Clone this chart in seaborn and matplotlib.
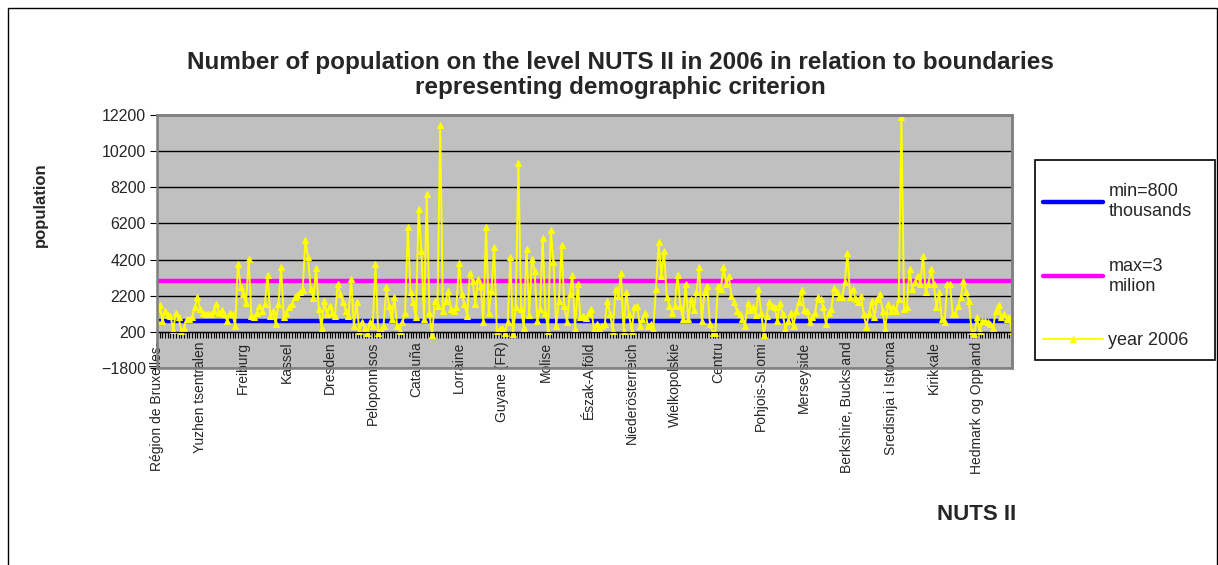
import numpy as np
import pandas as pd
import matplotlib
matplotlib.use("Agg")
import matplotlib.pyplot as plt
import seaborn as sns
from matplotlib.patches import Rectangle

# Population of NUTS II regions in 2006 (thousands)
pop_2006 = [
    810, 1700, 810, 1330, 1140, 1090, 290, 1270, 1000, 260,
    400, 900, 900, 1000, 1560, 2110, 1460, 1220, 1180, 1180,
    1180, 1370, 1740, 1220, 1400, 1180, 810, 1270, 1180, 530,
    3960, 2700, 2290, 1770, 4240, 1090, 1000, 1270, 1640, 1370,
    1740, 3370, 1090, 1370, 630, 1740, 3770, 1000, 1270, 1550,
    1740, 2110, 2240, 2390, 2520, 5260, 4330, 2570, 2070, 3740,
    1460, 440, 1920, 1180, 1640, 1270, 1090, 2850, 2290, 1830,
    1370, 1090, 3130, 530, 1830, 260, 770, 440, 160, 720,
    530, 3960, 160, 350, 530, 2660, 1640, 900, 2110, 530,
    260, 720, 1270, 6000, 2390, 1830, 1000, 7020, 4700, 900,
    7850, 1270, 30, 1920, 1640, 11650, 1370, 1920, 2480, 1460,
    1370, 1550, 4000, 2290, 1740, 1090, 3440, 3030, 1740, 3130,
    2760, 720, 6030, 1270, 2480, 4890, 260, 350, 440, 160,
    720, 4330, 70, 1550, 9550, 1460, 440, 4790, 1140, 4240,
    3590, 810, 1460, 5400, 1270, 260, 5810, 4050, 530, 1920,
    4980, 1640, 720, 2290, 3370, 350, 2850, 1000, 1090, 960,
    1270, 1460, 350, 630, 440, 530, 630, 1920, 1180, 260,
    2570, 2200, 3440, 260, 2390, 1180, 260, 1550, 1640, 530,
    900, 1270, 530, 630, 350, 2570, 5160, 3310, 4700, 2110,
    1640, 1270, 1640, 3370, 1640, 900, 2850, 900, 2010, 1400,
    2390, 3770, 810, 2390, 2760, 630, 160, 160, 2760, 2570,
    3770, 2850, 3270, 2200, 1830, 1370, 1180, 900, 530, 1770,
    1400, 1550, 1140, 2570, 1270, 30, 1090, 1830, 1640, 1550,
    810, 1770, 1180, 350, 810, 1270, 530, 1370, 1830, 2520,
    1400, 1370, 720, 1000, 1270, 2150, 2010, 1550, 630, 1270,
    1460, 2630, 2390, 2110, 2110, 2940, 4550, 2110, 2570, 2010,
    1830, 2200, 1180, 480, 1270, 1920, 1000, 2010, 2290, 1370,
    350, 1740, 1370, 1550, 1370, 2010, 12110, 1460, 1550, 3680,
    2570, 2940, 3310, 2850, 4420, 2390, 2850, 3680, 2850, 1550,
    2390, 900, 720, 2850, 2850, 1180, 1180, 1640, 2110, 3030,
    2390, 1920, 260, 70, 1000, 260, 810, 810, 720, 630,
    440, 1370, 1700, 1000, 1180, 900, 1000, 260,
]
min_level = 800
max_level = 3000

tick_names = [
    "Région de Bruxelles-", "Yuzhen tsentralen", "Freiburg", "Kassel", "Dresden",
    "Peloponnisos", "Cataluña", "Lorraine", "Guyane (FR)", "Molise",
    "Észak-Alföld", "Niederösterreich", "Wielkopolskie", "Centru", "Pohjois-Suomi",
    "Merseyside", "Berkshire, Bucks and", "Sredisnja i Istocna", "Kirikkale",
    "Hedmark og Oppland",
]
label_step = 16
y_ticks = list(range(-1800, 12201, 2000))

n = len(pop_2006)
df = pd.DataFrame({
    "region": np.arange(n),
    "year 2006": pop_2006,
    "min": [min_level] * n,
    "max": [max_level] * n,
})

sns.set_style("white")
plt.rcParams["font.family"] = ["Liberation Sans", "DejaVu Sans"]

W, H = 1218, 565
fig = plt.figure(figsize=(W / 100, H / 100), dpi=100)
ax = fig.add_axes([157 / W, 1 - 368 / H, 855 / W, 253 / H])
ax.set_facecolor("#C0C0C0")

sns.lineplot(data=df, x="region", y="min", color="#0000FF", lw=3.2,
             label="min=800\nthousands", ax=ax)
sns.lineplot(data=df, x="region", y="max", color="#FF00FF", lw=3.2,
             label="max=3\nmilion", ax=ax)
sns.lineplot(data=df, x="region", y="year 2006", color="#FFFF00", lw=1.4,
             marker="^", markersize=4.8, markeredgecolor="#FFFF00",
             label="year 2006", ax=ax)

# category axis crosses at 200 (move spine first, it resets the ticks)
ax.spines["bottom"].set_position(("data", 200))
ax.spines["bottom"].set_color("black")
ax.spines["left"].set_color("black")
for s in ["top", "right"]:
    ax.spines[s].set_color("#808080")
    ax.spines[s].set_linewidth(1.8)
ax.add_patch(Rectangle((0, 0), 1, 1, transform=ax.transAxes, fill=False,
                       edgecolor="#808080", lw=1.8, clip_on=False, zorder=5))

ax.set_ylim(-1800, 12200)
ax.set_xlim(0, n - 1)
ax.set_yticks(y_ticks)
ax.grid(axis="y", color="black", lw=1)
ax.grid(axis="x", visible=False)
ax.set_axisbelow(True)

xlabels = []
for i in range(n):
    k = i // label_step
    xlabels.append(tick_names[k] if i % label_step == 0 and k < len(tick_names) else "")
ax.set_xticks(range(n))
ax.set_xticklabels(xlabels)
ax.tick_params(axis="x", length=4, width=0.8, color="black", direction="out", pad=3,
               labelrotation=90, labelsize=10, bottom=True)
ax.tick_params(axis="y", length=5, width=0.8, color="black", direction="out",
               labelsize=11.5, pad=3, left=True)
ax.set_xlabel("")
ax.set_ylabel("")

# legend without its own frame; box drawn where the reference has it
leg = ax.legend(loc="upper left", bbox_to_anchor=(1038 / W, 1 - 178 / H),
                bbox_transform=fig.transFigure, frameon=False, fontsize=13,
                labelspacing=2.1, handlelength=3.3, handletextpad=0.3,
                borderpad=0.3, borderaxespad=0, numpoints=1)
fig.add_artist(Rectangle((1035 / W, 1 - 360 / H), 180 / W, 200 / H,
                         transform=fig.transFigure, fill=False,
                         edgecolor="black", lw=1.2))

fig.text(0.509, 1 - 75 / H,
         "Number of population on the level NUTS II in 2006 in relation to boundaries\n"
         "representing demographic criterion",
         ha="center", va="center", fontsize=17.5, fontweight="bold", linespacing=1.1)
fig.text(40 / W, 1 - 205 / H, "population", rotation=90, ha="center", va="center",
         fontsize=12, fontweight="bold")
fig.text(977 / W, 1 - 515 / H, "NUTS II", ha="center", va="center",
         fontsize=16, fontweight="bold")

fig.add_artist(Rectangle((8 / W, -0.01), 1 - 9 / W, 1 - 8 / H + 0.01,
                         transform=fig.transFigure, fill=False, edgecolor="black", lw=1))

fig.savefig("out.png", dpi=100, facecolor="white")
